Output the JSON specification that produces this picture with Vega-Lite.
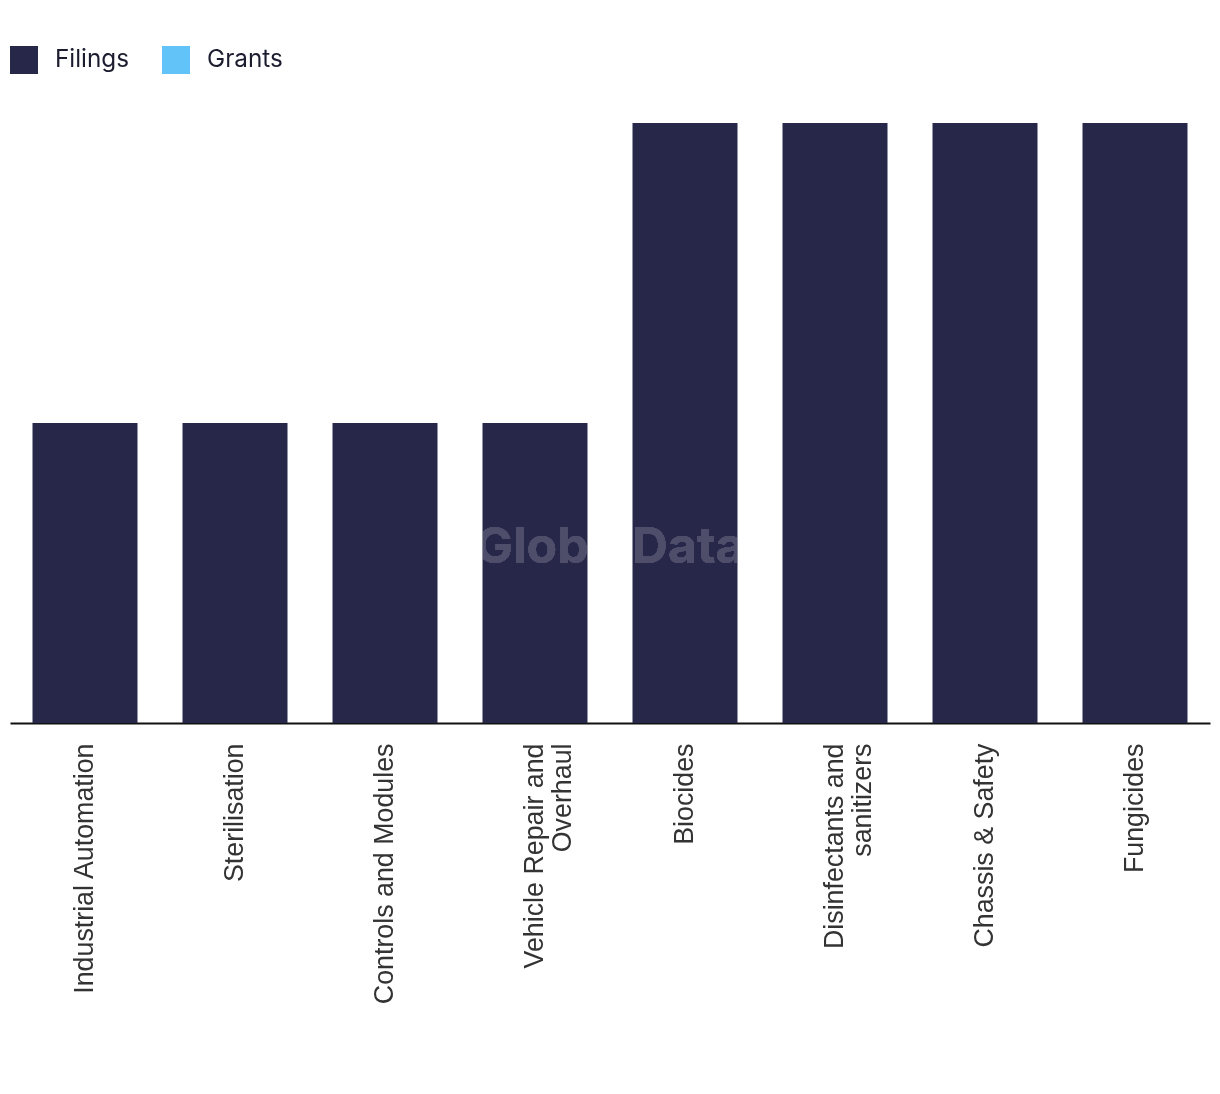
{
  "$schema": "https://vega.github.io/schema/vega-lite/v6.json",
  "width": 1200,
  "height": 600,
  "padding": {"left": 10, "top": 46, "right": 10, "bottom": 10},
  "background": "white",
  "config": {"view": {"stroke": null}},
  "data": {
    "values": [
      {"technology": "Industrial Automation", "type": "Filings", "count": 1},
      {"technology": "Sterilisation", "type": "Filings", "count": 1},
      {"technology": "Controls and Modules", "type": "Filings", "count": 1},
      {"technology": "Vehicle Repair and Overhaul", "type": "Filings", "count": 1},
      {"technology": "Biocides", "type": "Filings", "count": 2},
      {"technology": "Disinfectants and sanitizers", "type": "Filings", "count": 2},
      {"technology": "Chassis & Safety", "type": "Filings", "count": 2},
      {"technology": "Fungicides", "type": "Filings", "count": 2}
    ]
  },
  "layer": [
    {
      "mark": {"type": "bar"},
      "encoding": {
        "x": {
          "field": "technology",
          "type": "nominal",
          "sort": null,
          "scale": {"paddingInner": 0.3, "paddingOuter": 0.15},
          "axis": {
            "title": null,
            "labelAngle": -90,
            "labelAlign": "right",
            "labelBaseline": "middle",
            "labelFont": "Liberation Sans",
            "labelFontSize": 26.8,
            "labelColor": "#333333",
            "labelPadding": 20,
            "labelLineHeight": 28,
            "labelLimit": 0,
            "ticks": false,
            "domainColor": "#111111",
            "domainWidth": 2,
            "labelExpr": "length(datum.label) > 24 ? [slice(datum.label, 0, lastindexof(datum.label, ' ')), slice(datum.label, lastindexof(datum.label, ' ') + 1)] : datum.label"
          }
        },
        "y": {
          "field": "count",
          "type": "quantitative",
          "scale": {"domain": [0, 2]},
          "axis": null
        },
        "color": {
          "field": "type",
          "type": "nominal",
          "scale": {"domain": ["Filings", "Grants"], "range": ["#272849", "#61C3F8"]},
          "legend": {
            "title": null,
            "orient": "none",
            "legendX": 0,
            "legendY": -77,
            "direction": "horizontal",
            "symbolType": "square",
            "symbolSize": 784,
            "symbolStrokeWidth": 0,
            "labelFont": "Inter",
            "labelFontSize": 24.3,
            "labelColor": "#1c1c30",
            "labelOffset": 17,
            "columnPadding": 32
          }
        }
      }
    },
    {
      "mark": {"type": "text", "text": "GlobalData", "font": "Inter", "fontWeight": "bold", "fontSize": 50, "fill": "#4e4e6b", "blend": "lighten", "align": "center", "baseline": "middle"},
      "encoding": {
        "x": {"datum": "Biocides", "type": "nominal", "bandPosition": -0.214},
        "y": {"datum": 0.585, "type": "quantitative"}
      }
    }
  ]
}
